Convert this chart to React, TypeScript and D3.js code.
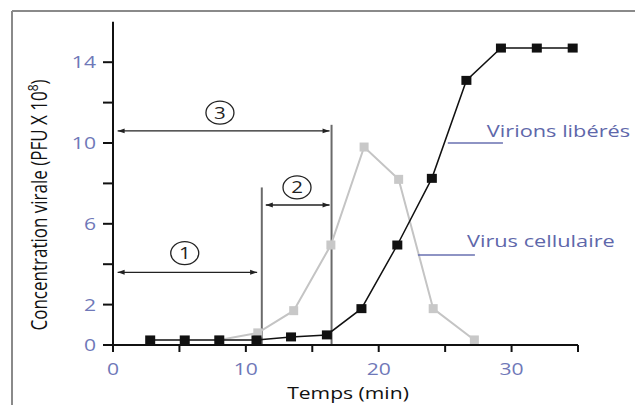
import React from "react";
import * as d3 from "d3";

const timeLiberes = [2.8, 5.4, 8.0, 10.8, 13.4, 16.1, 18.7, 21.4, 24.0, 26.6, 29.2, 31.9, 34.6];
const valLiberes = [0.25, 0.25, 0.25, 0.25, 0.4, 0.5, 1.8, 4.95, 8.25, 13.1, 14.7, 14.7, 14.7];

const timeCellulaire = [8.0, 10.9, 13.6, 16.4, 18.9, 21.5, 24.1, 27.2];
const valCellulaire = [0.25, 0.6, 1.7, 4.95, 9.8, 8.2, 1.8, 0.25];

const xTicks = [0, 5, 10, 15, 20, 25, 30, 35];
const xTickLabels = ["0", "", "10", "", "20", "", "30", ""];
const yTicks = [0, 2, 4, 6, 8, 10, 12, 14];
const yTickLabels = ["0", "2", "", "6", "", "10", "", "14"];

const phaseArrows = [
  { x0: 0.35, x1: 10.85, y: 3.6, label: "1", lx: 5.4, ly: 4.55 },
  { x0: 11.5, x1: 16.3, y: 6.93, label: "2", lx: 13.85, ly: 7.8 },
  { x0: 0.35, x1: 16.3, y: 10.6, label: "3", lx: 8.05, ly: 11.5 },
];
const phaseLines = [
  { x: 11.2, top: 7.8 },
  { x: 16.45, top: 10.9 },
];
const legendItems = [
  { text: "Virions libérés", lx0: 25.2, lx1: 29.35, ly: 10.0, tx: 28.14, ty: 10.3 },
  { text: "Virus cellulaire", lx0: 22.95, lx1: 27.24, ly: 4.46, tx: 26.64, ty: 4.85 },
];

const W = 635;
const H = 405;
const FONT = "'Open Sans', 'Noto Sans', sans-serif";
const BLUE = "#6f78b8";
const SX = 1.28;

function SText(props: any) {
  const { x, y, children, anchor = "start", ...rest } = props;
  return (
    <text transform={`translate(${x},${y}) scale(${SX},1)`} textAnchor={anchor} {...rest}>
      {children}
    </text>
  );
}

export default function App() {
  const x = d3.scaleLinear().domain([0, 35]).range([113, 578]);
  const y = d3.scaleLinear().domain([0, 16]).range([345, 21.8]);
  const line = d3
    .line<[number, number]>()
    .x((d) => x(d[0]))
    .y((d) => y(d[1]));
  const lib: [number, number][] = timeLiberes.map((t, i) => [t, valLiberes[i]]);
  const cel: [number, number][] = timeCellulaire.map((t, i) => [t, valCellulaire[i]]);

  return (
    <svg
      width={W}
      height={H}
      style={{ position: "fixed", left: 0, top: 0, background: "#fff" }}
      fontFamily={FONT}
    >
      <defs>
        <marker id="ah" viewBox="0 0 10 10" refX="10" refY="5" markerWidth="8" markerHeight="7" orient="auto-start-reverse" markerUnits="userSpaceOnUse">
          <path d="M0,1.5 L10,5 L0,8.5 Z" fill="#222" />
        </marker>
      </defs>
      <rect x={0} y={0} width={W} height={H} fill="#fff" />
      <line x1={12} y1={11} x2={W} y2={11} stroke="#8a8a8a" strokeWidth={2} />
      <line x1={12} y1={11} x2={12} y2={H} stroke="#8a8a8a" strokeWidth={2} />

      {phaseLines.map((p, i) => (
        <line key={i} x1={x(p.x)} x2={x(p.x)} y1={y(p.top)} y2={y(0)} stroke="#6a6a6a" strokeWidth={2} />
      ))}

      <path d={line(cel) || ""} fill="none" stroke="#c4c4c4" strokeWidth={2} />
      {cel.map((d, i) => (
        <rect key={i} x={x(d[0]) - 4.5} y={y(d[1]) - 4.5} width={9} height={9} fill="#c8c8c8" />
      ))}

      <path d={line(lib) || ""} fill="none" stroke="#111" strokeWidth={1.5} />
      {lib.map((d, i) => (
        <rect key={i} x={x(d[0]) - 5} y={y(d[1]) - 4.5} width={10} height={9} fill="#111" />
      ))}

      <line x1={x(0)} x2={x(0)} y1={y(16)} y2={y(0) + 7} stroke="#111" strokeWidth={2} />
      <line x1={x(0) - 10} x2={x(35)} y1={y(0)} y2={y(0)} stroke="#111" strokeWidth={2} />
      {yTicks.map((t, i) => (
        <g key={i}>
          <line x1={x(0) - 10} x2={x(0)} y1={y(t)} y2={y(t)} stroke="#111" strokeWidth={2} />
          {yTickLabels[i] && (
            <SText x={96} y={y(t) + 6} anchor="end" fontSize={16.5} fill={BLUE}>
              {yTickLabels[i]}
            </SText>
          )}
        </g>
      ))}
      {xTicks.map((t, i) => (
        <g key={i}>
          <line x1={x(t)} x2={x(t)} y1={y(0)} y2={y(0) + 7} stroke="#111" strokeWidth={2} />
          {xTickLabels[i] && (
            <SText x={x(t)} y={375} anchor="middle" fontSize={16.5} fill={BLUE}>
              {xTickLabels[i]}
            </SText>
          )}
        </g>
      ))}

      <SText x={348} y={399} anchor="middle" fontSize={16.5} fill="#111">
        Temps (min)
      </SText>
      <text transform={`translate(47,205) scale(${SX},1) rotate(-90)`} textAnchor="middle" fontSize={17} fill="#111">
        Concentration virale (PFU X 10<tspan dy="-7" fontSize={12}>8</tspan><tspan dy="7">)</tspan>
      </text>

      {phaseArrows.map((a, i) => (
        <g key={i}>
          <line x1={x(a.x0)} x2={x(a.x1)} y1={y(a.y)} y2={y(a.y)} stroke="#222" strokeWidth={1.3} markerStart="url(#ah)" markerEnd="url(#ah)" />
          <ellipse cx={x(a.lx)} cy={y(a.ly)} rx={14} ry={11.5} fill="none" stroke="#222" strokeWidth={1.3} />
          <SText x={x(a.lx)} y={y(a.ly) + 6} anchor="middle" fontSize={16} fill="#222">
            {a.label}
          </SText>
        </g>
      ))}

      {legendItems.map((l, i) => (
        <g key={i}>
          <line x1={x(l.lx0)} x2={x(l.lx1)} y1={y(l.ly)} y2={y(l.ly)} stroke="#6870b0" strokeWidth={1.5} />
          <SText x={x(l.tx)} y={y(l.ty)} fontSize={17} fill="#5e67aa">
            {l.text}
          </SText>
        </g>
      ))}
    </svg>
  );
}
